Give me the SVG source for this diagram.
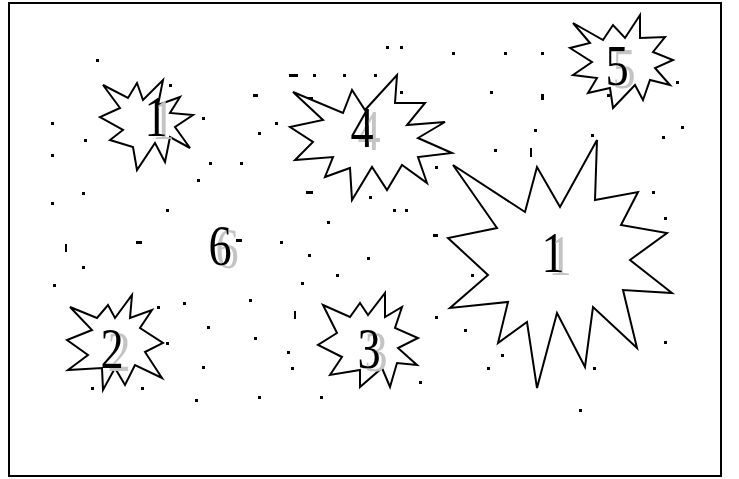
<svg xmlns="http://www.w3.org/2000/svg" width="739" height="479" viewBox="0 0 739 479">
<defs>
<style>
.star{fill:#fff;stroke:#000;stroke-width:2;stroke-linejoin:miter}
.lbl{font-family:"Liberation Serif","Times New Roman",serif;font-size:58px;fill:#000;text-anchor:middle;filter:url(#sh)}
.sp rect{fill:#000}
</style>
<filter id="sh" x="-50%" y="-50%" width="200%" height="200%">
<feOffset in="SourceAlpha" dx="9" dy="3" result="o"/>
<feFlood flood-color="#c4c4c4" result="c"/>
<feComposite in="c" in2="o" operator="in" result="s"/>
<feMerge><feMergeNode in="s"/><feMergeNode in="SourceGraphic"/></feMerge>
</filter>
</defs>
<rect x="0" y="0" width="739" height="479" fill="#fff"/>
<rect x="9" y="3" width="712" height="473" fill="none" stroke="#000" stroke-width="2"/>
<g class="sp">
<rect x="96" y="59" width="3" height="3"/><rect x="386" y="46" width="3" height="3"/><rect x="400" y="46" width="3" height="3"/>
<rect x="452" y="52" width="3" height="3"/><rect x="504" y="52" width="3" height="3"/><rect x="541" y="52" width="3" height="3"/>
<rect x="289" y="74" width="9" height="3"/><rect x="313" y="74" width="3" height="3"/><rect x="343" y="74" width="3" height="3"/>
<rect x="374" y="74" width="3" height="3"/><rect x="253" y="94" width="5" height="3"/><rect x="169" y="84" width="3" height="3"/>
<rect x="306" y="97" width="7" height="3"/><rect x="400" y="91" width="3" height="3"/><rect x="490" y="91" width="3" height="3"/>
<rect x="541" y="94" width="3" height="6"/><rect x="607" y="94" width="3" height="3"/><rect x="676" y="81" width="3" height="3"/>
<rect x="51" y="122" width="3" height="3"/><rect x="202" y="117" width="3" height="3"/><rect x="275" y="122" width="3" height="3"/>
<rect x="258" y="132" width="3" height="3"/><rect x="534" y="129" width="3" height="3"/><rect x="591" y="134" width="3" height="3"/>
<rect x="662" y="136" width="3" height="3"/><rect x="681" y="126" width="3" height="3"/><rect x="84" y="139" width="3" height="3"/>
<rect x="51" y="154" width="3" height="3"/><rect x="209" y="162" width="3" height="3"/><rect x="240" y="162" width="3" height="3"/>
<rect x="197" y="179" width="3" height="3"/><rect x="494" y="149" width="3" height="3"/><rect x="530" y="148" width="2" height="9"/>
<rect x="435" y="166" width="3" height="3"/><rect x="388" y="172" width="3" height="3"/><rect x="306" y="191" width="7" height="3"/>
<rect x="82" y="192" width="3" height="3"/><rect x="51" y="202" width="3" height="3"/><rect x="369" y="196" width="3" height="3"/>
<rect x="166" y="209" width="3" height="3"/><rect x="393" y="209" width="3" height="3"/><rect x="405" y="209" width="3" height="3"/>
<rect x="652" y="191" width="3" height="3"/><rect x="664" y="217" width="3" height="3"/><rect x="327" y="221" width="3" height="3"/>
<rect x="433" y="234" width="5" height="3"/><rect x="136" y="241" width="6" height="3"/><rect x="65" y="244" width="2" height="8"/>
<rect x="280" y="241" width="3" height="3"/><rect x="236" y="239" width="6" height="3"/><rect x="308" y="254" width="3" height="3"/>
<rect x="367" y="257" width="3" height="3"/><rect x="82" y="266" width="3" height="3"/><rect x="53" y="284" width="3" height="3"/>
<rect x="471" y="274" width="3" height="3"/><rect x="336" y="274" width="3" height="3"/><rect x="301" y="282" width="3" height="3"/>
<rect x="249" y="299" width="3" height="3"/><rect x="183" y="302" width="3" height="3"/><rect x="157" y="306" width="3" height="3"/>
<rect x="294" y="311" width="2" height="8"/><rect x="435" y="316" width="3" height="3"/><rect x="207" y="326" width="3" height="3"/>
<rect x="464" y="329" width="3" height="3"/><rect x="254" y="337" width="3" height="3"/><rect x="166" y="342" width="3" height="3"/>
<rect x="287" y="351" width="3" height="3"/><rect x="664" y="341" width="3" height="3"/><rect x="501" y="354" width="3" height="3"/>
<rect x="487" y="367" width="3" height="3"/><rect x="593" y="367" width="3" height="3"/><rect x="202" y="366" width="3" height="3"/>
<rect x="291" y="367" width="3" height="3"/><rect x="419" y="381" width="3" height="3"/><rect x="91" y="387" width="3" height="3"/>
<rect x="141" y="387" width="3" height="3"/><rect x="195" y="399" width="3" height="3"/><rect x="258" y="396" width="3" height="3"/>
<rect x="320" y="396" width="3" height="3"/><rect x="579" y="409" width="3" height="3"/>
</g>
<g id="node-1a">
<polygon class="star" points="103,85 128,98 137,83 143,100 163,80 158,105 180,97 170,113 193,115 175,127 190,148 170,137 165,162 155,143 137,170 133,147 110,140 123,130 100,117 120,108"/>
<text class="lbl" transform="translate(156 136) scale(0.8 1)">1</text>
</g>
<g id="node-4">
<polygon class="star" points="293,92 343,113 352,90 365,110 397,75 395,103 425,103 407,125 445,122 418,138 452,153 418,157 427,183 402,165 387,190 372,167 352,200 350,168 325,177 333,157 295,160 313,142 290,127 323,120"/>
<text class="lbl" transform="translate(362 147) scale(0.8 1)">4</text>
</g>
<g id="node-5">
<polygon class="star" points="573,23 603,40 613,25 625,38 640,15 640,38 665,37 653,52 673,60 655,68 670,85 650,80 643,100 635,85 613,108 610,88 588,93 597,78 573,75 592,62 570,48 590,43"/>
<text class="lbl" transform="translate(617 85) scale(0.8 1)">5</text>
</g>
<g id="node-1b">
<polygon class="star" points="453,165 525,212 537,167 560,207 597,140 595,200 638,192 621,225 667,233 630,260 672,293 623,290 637,348 593,307 585,367 557,313 537,388 527,322 498,343 508,302 450,308 488,275 448,238 497,228"/>
<text class="lbl" transform="translate(553 272) scale(0.8 1)">1</text>
</g>
<g id="node-6">
<text class="lbl" transform="translate(220 265) scale(0.8 1)">6</text>
</g>
<g id="node-2">
<polygon class="star" points="70,307 97,318 108,305 115,318 132,295 130,318 152,310 140,328 163,343 145,352 162,378 135,365 125,385 115,368 103,390 102,368 68,370 88,355 67,340 92,330"/>
<text class="lbl" transform="translate(112 368) scale(0.8 1)">2</text>
</g>
<g id="node-3">
<polygon class="star" points="323,305 350,317 360,303 368,315 385,293 385,317 402,307 395,328 418,338 398,348 417,365 397,363 390,387 382,368 360,387 360,370 330,375 342,357 318,345 337,333"/>
<text class="lbl" transform="translate(369 368) scale(0.8 1)">3</text>
</g>
<g id="connectors"></g>
</svg>
